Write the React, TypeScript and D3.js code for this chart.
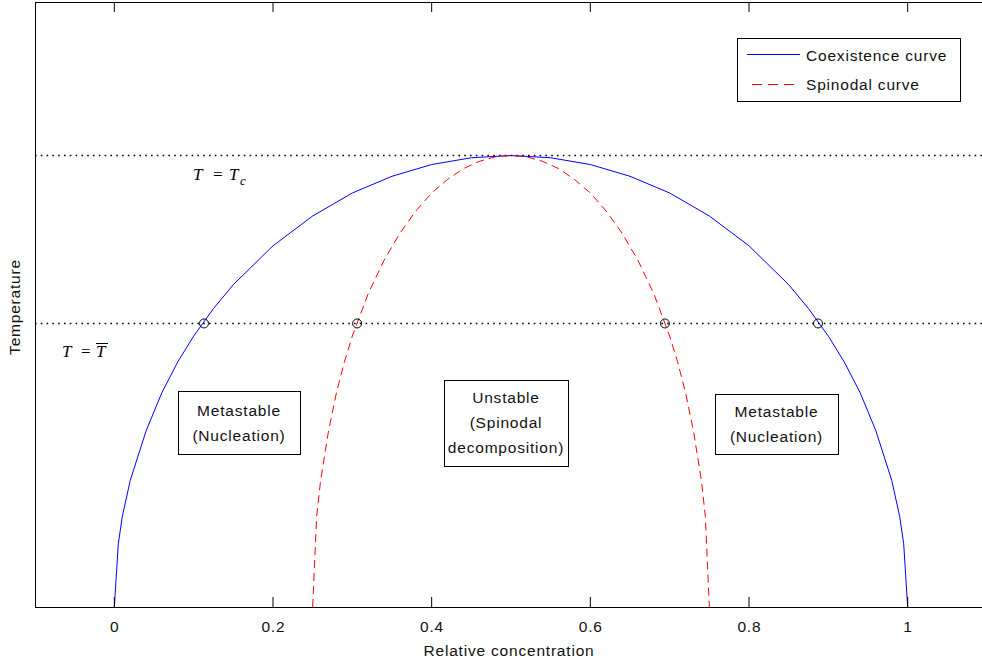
import React from "react";
import * as d3 from "d3";

const coexX = [0, 0.005, 0.01, 0.02, 0.04, 0.06, 0.08, 0.1, 0.125, 0.15, 0.2, 0.25, 0.3, 0.35, 0.4, 0.45, 0.5, 0.55, 0.6, 0.65, 0.7, 0.75, 0.8, 0.85, 0.875, 0.9, 0.92, 0.94, 0.96, 0.98, 0.99, 0.995, 1];
const coexT = [0, 0.14, 0.2, 0.28, 0.39, 0.475, 0.543, 0.6, 0.661, 0.714, 0.8, 0.866, 0.917, 0.954, 0.98, 0.995, 1, 0.995, 0.98, 0.954, 0.917, 0.866, 0.8, 0.714, 0.661, 0.6, 0.543, 0.475, 0.39, 0.28, 0.2, 0.14, 0];

const spinX = [0.25, 0.255, 0.26, 0.27, 0.28, 0.29, 0.3, 0.32, 0.34, 0.36, 0.38, 0.4, 0.42, 0.44, 0.46, 0.48, 0.5, 0.52, 0.54, 0.56, 0.58, 0.6, 0.62, 0.64, 0.66, 0.68, 0.7, 0.71, 0.72, 0.73, 0.74, 0.745, 0.75];
const spinT = [0, 0.2, 0.28, 0.39, 0.475, 0.543, 0.6, 0.694, 0.768, 0.828, 0.877, 0.917, 0.947, 0.971, 0.987, 0.997, 1, 0.997, 0.987, 0.971, 0.947, 0.917, 0.877, 0.828, 0.768, 0.694, 0.6, 0.543, 0.475, 0.39, 0.28, 0.2, 0];

const markerX = [0.113, 0.306, 0.694, 0.887];
const Tc = 1;
const Tbar = 0.628;

const xTicks = [0, 0.2, 0.4, 0.6, 0.8, 1];
const xTickLabels = ["0", "0.2", "0.4", "0.6", "0.8", "1"];

const legendLabels = ["Coexistence curve", "Spinodal curve"];

const W = 982;
const H = 663;
const L = 35, R = 987, T0 = 2, B = 607;

export default function App() {
  const x = d3.scaleLinear().domain([-0.1, 1.1]).range([L, R]);
  const y = d3.scaleLinear().domain([0, 1.34]).range([B, T0]);

  const line = d3.line<[number, number]>().x(d => x(d[0])).y(d => y(d[1]));
  const coex = line(coexX.map((v, i) => [v, coexT[i]] as [number, number])) || "";
  const spin = line(spinX.map((v, i) => [v, spinT[i]] as [number, number])) || "";

  const font = "'Liberation Sans', Arial, Helvetica, sans-serif";
  const serif = "'Liberation Serif', 'DejaVu Serif', serif";
  const txt = { fontSize: 15.5, fontFamily: font, fill: "#111", letterSpacing: 0.8 } as any;

  const box = (x0: number, y0: number, w: number, h: number, lines: string[], cy: number) => (
    <g>
      <rect x={x0 + 0.5} y={y0 + 0.5} width={w} height={h} fill="white" stroke="black" strokeWidth={1} />
      {lines.map((t, i) => (
        <text key={i} x={x0 + w / 2} y={cy + i * 25} textAnchor="middle" dominantBaseline="middle" {...txt}>{t}</text>
      ))}
    </g>
  );

  const mt = { fontSize: 17, fontFamily: serif, fontStyle: "italic", fill: "#000" } as any;

  return (
    <svg width={W} height={H} style={{ position: "fixed", left: 0, top: 0, background: "white" }}>
      <rect x={0} y={0} width={W} height={H} fill="white" />
      <line x1={L} x2={R} y1={y(Tc)} y2={y(Tc)} stroke="black" strokeWidth={1.6} strokeDasharray="1.6,4.2" />
      <line x1={L} x2={R} y1={y(Tbar)} y2={y(Tbar)} stroke="black" strokeWidth={1.6} strokeDasharray="1.6,4.2" />
      <path d={coex} fill="none" stroke="#0000ff" strokeWidth={1} />
      <path d={spin} fill="none" stroke="#ff0000" strokeWidth={1} strokeDasharray="8,5" />
      {markerX.map((m, i) => (
        <circle key={i} cx={x(m)} cy={y(Tbar)} r={4.5} fill="none" stroke="black" strokeWidth={1} />
      ))}
      <line x1={L + 0.5} x2={L + 0.5} y1={T0} y2={B} stroke="black" strokeWidth={1} />
      <line x1={L} x2={R} y1={B + 0.5} y2={B + 0.5} stroke="black" strokeWidth={1} />
      <line x1={L} x2={R} y1={T0 + 0.5} y2={T0 + 0.5} stroke="black" strokeWidth={1} />
      {xTicks.map((t, i) => (
        <g key={i}>
          <line x1={x(t)} x2={x(t)} y1={B} y2={B - 10} stroke="black" strokeWidth={1} />
          <line x1={x(t)} x2={x(t)} y1={T0} y2={T0 + 10} stroke="black" strokeWidth={1} />
          <text x={x(t) + 0.4} y={628} textAnchor="middle" dominantBaseline="middle" {...txt}>{xTickLabels[i]}</text>
        </g>
      ))}
      <text x={509} y={652} textAnchor="middle" dominantBaseline="middle" {...txt}>Relative concentration</text>
      <text transform="translate(16,307) rotate(-90)" textAnchor="middle" dominantBaseline="middle" {...txt}>Temperature</text>
      <text x={193} y={180} {...mt}>T</text>
      <text x={213} y={180} {...mt} fontStyle="normal">=</text>
      <text x={229} y={180} {...mt}>T</text>
      <text x={240} y={185} {...mt} fontSize={13}>c</text>
      <text x={62} y={357} {...mt}>T</text>
      <text x={81} y={357} {...mt} fontStyle="normal">=</text>
      <text x={96} y={357} {...mt}>T</text>
      <line x1={96} x2={108} y1={343.5} y2={343.5} stroke="black" strokeWidth={1} />
      {box(178, 391, 122, 63, ["Metastable", "(Nucleation)"], 412)}
      {box(444, 380, 124, 86, ["Unstable", "(Spinodal", "decomposition)"], 399)}
      {box(715, 394, 123, 60, ["Metastable", "(Nucleation)"], 413)}
      <rect x={737.5} y={38.5} width={223} height={63} fill="white" stroke="black" strokeWidth={1} />
      <line x1={747} x2={800} y1={54.5} y2={54.5} stroke="#0000ff" strokeWidth={1} />
      <text x={806} y={57} dominantBaseline="middle" {...txt}>{legendLabels[0]}</text>
      <line x1={752} x2={800} y1={84.5} y2={84.5} stroke="#ff0000" strokeWidth={1} strokeDasharray="10,6" />
      <text x={806} y={86} dominantBaseline="middle" {...txt}>{legendLabels[1]}</text>
    </svg>
  );
}
